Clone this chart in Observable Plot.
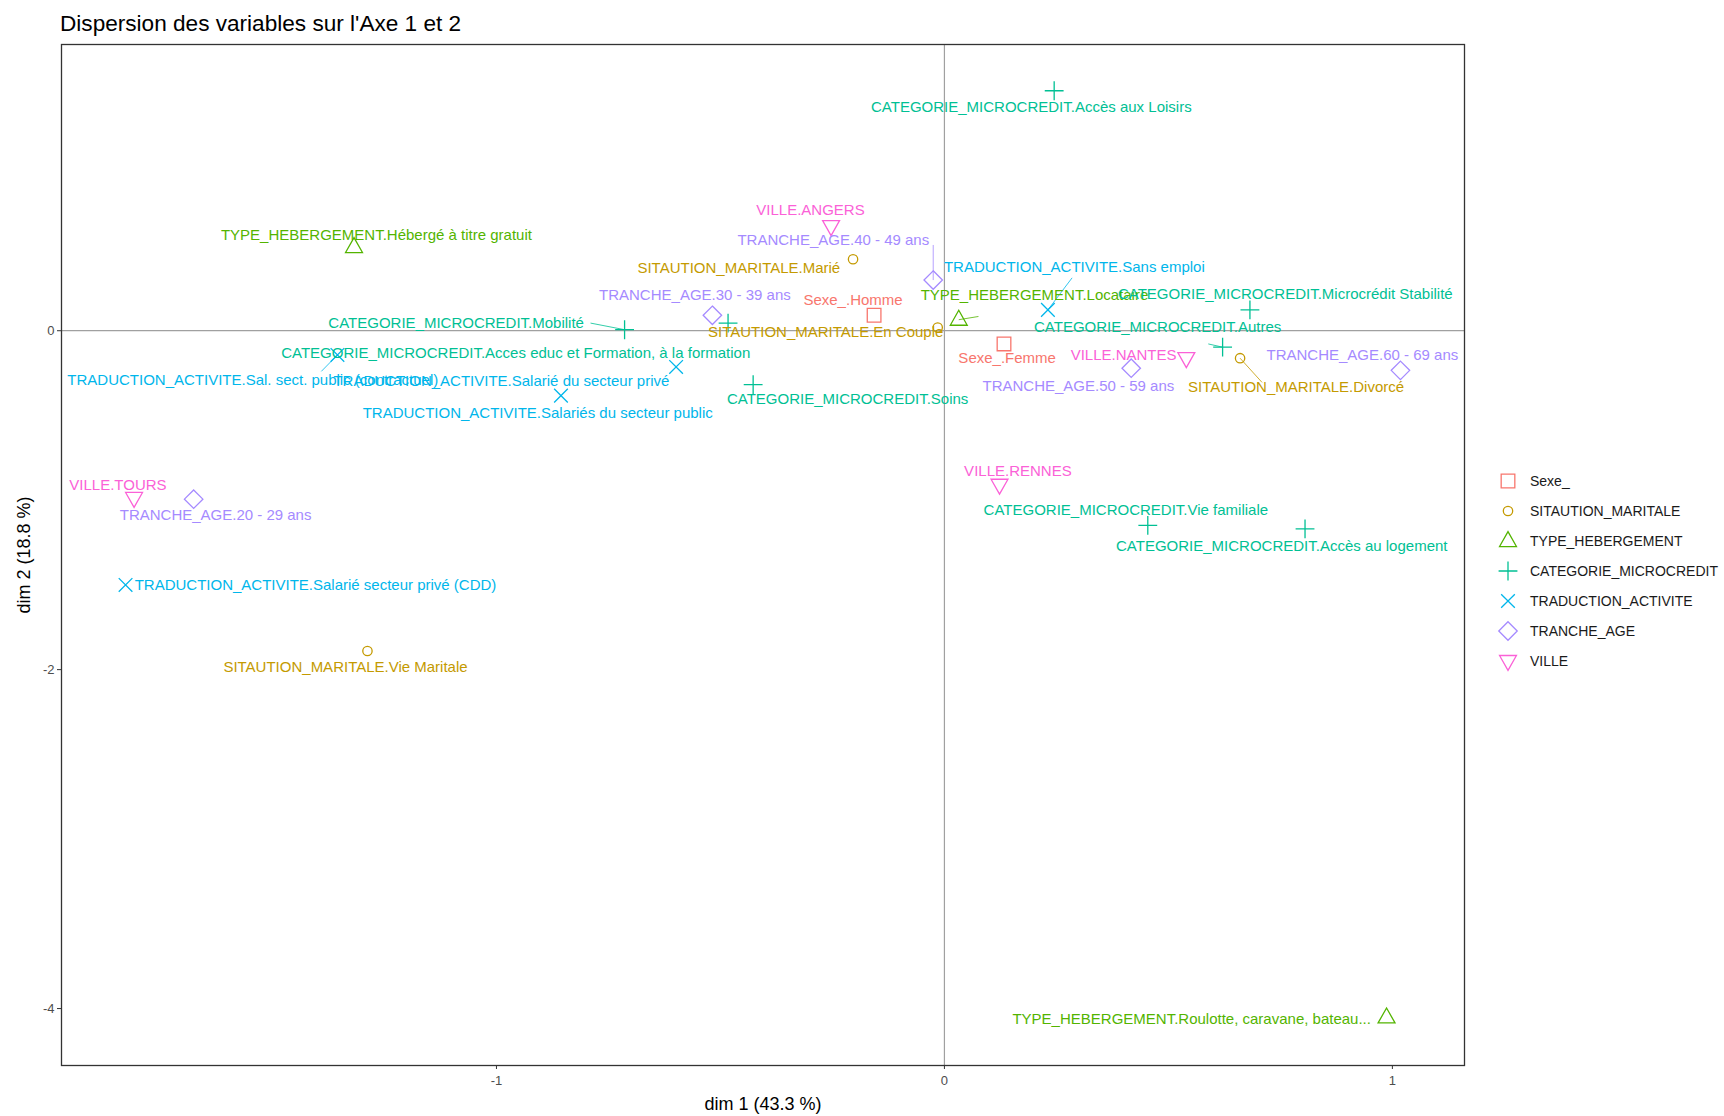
<!DOCTYPE html>
<html><head><meta charset="utf-8">
<script src="https://cdn.jsdelivr.net/npm/d3@7"></script>
<script src="https://cdn.jsdelivr.net/npm/@observablehq/plot@0.6"></script>
<style>
body{margin:0;background:#fff;font-family:"Liberation Sans",Arial,sans-serif;}
#wrap{position:relative;width:1724px;height:1116px;overflow:hidden;}
#title{position:absolute;left:60px;top:12px;font-size:22.6px;line-height:23px;color:#000;white-space:nowrap;}
#chart{position:absolute;left:0;top:36px;}
#legend{position:absolute;left:1493px;top:466px;font-size:14px;color:#1a1a1a;}
#legend .it{display:flex;align-items:center;height:30px;}
#legend svg{width:30px;height:30px;margin-right:7px;}
</style></head><body>
<div id="wrap">
  <div id="title">Dispersion des variables sur l'Axe 1 et 2</div>
  <div id="chart"></div>
  <div id="legend"></div>
</div>
<script>
// ---- data ----
const groups = ["Sexe_", "SITAUTION_MARITALE", "TYPE_HEBERGEMENT", "CATEGORIE_MICROCREDIT", "TRADUCTION_ACTIVITE", "TRANCHE_AGE", "VILLE"];
const groupColors = ["#F8766D", "#C49A00", "#53B400", "#00C094", "#00B6EB", "#A58AFF", "#FB61D7"];

const names = [
  "Sexe_.Homme", "Sexe_.Femme",
  "SITAUTION_MARITALE.Marié", "SITAUTION_MARITALE.En Couple", "SITAUTION_MARITALE.Divorcé", "SITAUTION_MARITALE.Vie Maritale",
  "TYPE_HEBERGEMENT.Hébergé à titre gratuit", "TYPE_HEBERGEMENT.Locataire", "TYPE_HEBERGEMENT.Roulotte, caravane, bateau...",
  "CATEGORIE_MICROCREDIT.Accès aux Loisirs", "CATEGORIE_MICROCREDIT.Mobilité", "CATEGORIE_MICROCREDIT.Acces educ et Formation, à la formation",
  "CATEGORIE_MICROCREDIT.Soins", "CATEGORIE_MICROCREDIT.Microcrédit Stabilité", "CATEGORIE_MICROCREDIT.Autres",
  "CATEGORIE_MICROCREDIT.Vie familiale", "CATEGORIE_MICROCREDIT.Accès au logement",
  "TRADUCTION_ACTIVITE.Sal. sect. public (contractuel)", "TRADUCTION_ACTIVITE.Salarié du secteur privé",
  "TRADUCTION_ACTIVITE.Salariés du secteur public", "TRADUCTION_ACTIVITE.Sans emploi", "TRADUCTION_ACTIVITE.Salarié secteur privé (CDD)",
  "TRANCHE_AGE.40 - 49 ans", "TRANCHE_AGE.30 - 39 ans", "TRANCHE_AGE.50 - 59 ans", "TRANCHE_AGE.60 - 69 ans", "TRANCHE_AGE.20 - 29 ans",
  "VILLE.ANGERS", "VILLE.NANTES", "VILLE.RENNES", "VILLE.TOURS"
];
const groupOf = [
  0, 0,
  1, 1, 1, 1,
  2, 2, 2,
  3, 3, 3, 3, 3, 3, 3, 3,
  4, 4, 4, 4, 4,
  5, 5, 5, 5, 5,
  6, 6, 6, 6
];
const dim1 = [
  -0.157, 0.133,
  -0.204, -0.015, 0.660, -1.288,
  -1.318, 0.032, 0.987,
  0.245, -0.714, -0.483, -0.427, 0.682, 0.621, 0.454, 0.805,
  -1.355, -0.599, -0.856, 0.231, -1.828,
  -0.025, -0.518, 0.417, 1.018, -1.676,
  -0.253, 0.540, 0.123, -1.809
];
const dim2 = [
  0.091, -0.078,
  0.422, 0.019, -0.162, -1.890,
  0.494, 0.065, -4.052,
  1.416, 0.006, 0.045, -0.318, 0.123, -0.097, -1.149, -1.169,
  -0.143, -0.214, -0.383, 0.123, -1.500,
  0.299, 0.091, -0.221, -0.234, -0.994,
  0.617, -0.162, -0.909, -0.987
];
// repelled label anchors (data units)
const labelDim1 = [
  -0.204, 0.140,
  -0.459, -0.265, 0.785, -1.337,
  -1.268, 0.201, 0.552,
  0.194, -1.090, -0.957, -0.216, 0.761, 0.476, 0.405, 0.753,
  -1.544, -0.989, -0.908, 0.290, -1.404,
  -0.248, -0.557, 0.299, 0.933, -1.627,
  -0.299, 0.400, 0.164, -1.845
];
const labelDim2 = [
  0.182, -0.162,
  0.370, -0.006, -0.331, -1.987,
  0.565, 0.208, -4.065,
  1.318, 0.045, -0.130, -0.403, 0.214, 0.019, -1.058, -1.273,
  -0.292, -0.299, -0.487, 0.377, -1.500,
  0.532, 0.208, -0.325, -0.143, -1.091,
  0.714, -0.143, -0.831, -0.909
];
// leader segments: modality index and label-side end (data units)
const leaderIndex = [10, 22, 20, 7, 14, 4, 17];
const leaderDim1 = [-0.790, -0.025, 0.285, 0.076, 0.589, 0.709, -1.391];
const leaderDim2 = [0.045, 0.506, 0.312, 0.084, -0.078, -0.305, -0.240];

const xTicks = [-1, 0, 1];
const yTicks = [-4, -2, 0];
const xTitle = "dim 1 (43.3 %)";
const yTitle = "dim 2 (18.8 %)";

// ---- build tables ----
const rows = names.map((n, i) => ({name: n, group: groups[groupOf[i]], d1: dim1[i], d2: dim2[i], l1: labelDim1[i], l2: labelDim2[i]}));
const leaders = leaderIndex.map((k, j) => ({group: rows[k].group, x1: rows[k].d1, y1: rows[k].d2, x2: leaderDim1[j], y2: leaderDim2[j]}));

// custom open symbols (ggplot shapes 0..6)
const sym = f => ({draw(c, size) { const r = Math.sqrt(size / Math.PI); f(c, r); }});
const shapes = [
  sym((c, r) => { const h = r * 1.05; c.moveTo(-h, -h); c.lineTo(h, -h); c.lineTo(h, h); c.lineTo(-h, h); c.closePath(); }),
  sym((c, r) => { const a = r * 0.72; c.moveTo(a, 0); c.arc(0, 0, a, 0, 2 * Math.PI); }),
  sym((c, r) => { const w = r * 1.3, t = r * 1.45, b = r * 0.85; c.moveTo(0, -t); c.lineTo(w, b); c.lineTo(-w, b); c.closePath(); }),
  sym((c, r) => { const h = r * 1.45; c.moveTo(-h, 0); c.lineTo(h, 0); c.moveTo(0, -h); c.lineTo(0, h); }),
  sym((c, r) => { const h = r * 1.05; c.moveTo(-h, -h); c.lineTo(h, h); c.moveTo(h, -h); c.lineTo(-h, h); }),
  sym((c, r) => { const h = r * 1.42; c.moveTo(0, -h); c.lineTo(h, 0); c.lineTo(0, h); c.lineTo(-h, 0); c.closePath(); }),
  sym((c, r) => { const w = r * 1.3, t = r * 1.45, b = r * 0.85; c.moveTo(0, t); c.lineTo(w, -b); c.lineTo(-w, -b); c.closePath(); })
];

const font = "'Liberation Sans', Arial, sans-serif";
const fmt = d => String(d);
const chart = Plot.plot({
  width: 1724, height: 1080,
  marginLeft: 61, marginRight: 260, marginTop: 8, marginBottom: 51,
  style: {fontFamily: font, background: "white", overflow: "visible"},
  x: {domain: [-1.971, 1.161], ticks: xTicks, label: null},
  y: {domain: [-4.336, 1.689], ticks: yTicks, label: null},
  color: {domain: groups, range: groupColors},
  symbol: {domain: groups, range: shapes},
  marks: [
    Plot.ruleX([0], {stroke: "#a0a0a0", strokeWidth: 1.2}),
    Plot.ruleY([0], {stroke: "#a0a0a0", strokeWidth: 1.2}),
    Plot.frame({stroke: "#333", strokeWidth: 1.3}),
    Plot.axisX(xTicks, {tickSize: 4, tickPadding: 6, fontSize: 13, fill: "#4d4d4d", stroke: "#333", tickFormat: fmt, label: null}),
    Plot.axisY(yTicks, {tickSize: 4, tickPadding: 3, fontSize: 13, fill: "#4d4d4d", stroke: "#333", tickFormat: fmt, label: null}),
    Plot.text([xTitle], {frameAnchor: "bottom", dy: 39, textAnchor: "middle", lineAnchor: "middle", fontSize: 18, fill: "#000"}),
    Plot.text([yTitle], {frameAnchor: "left", dx: -37, rotate: -90, textAnchor: "middle", lineAnchor: "middle", fontSize: 18, fill: "#000"}),
    Plot.link(leaders, {x1: "x1", y1: "y1", x2: "x2", y2: "y2", stroke: "group", strokeWidth: 0.8}),
    Plot.dot(rows, {x: "d1", y: "d2", symbol: "group", stroke: "group", r: 6.5, strokeWidth: 1.3, fill: "none"}),
    Plot.text(rows, {x: "l1", y: "l2", text: "name", fill: "group", fontSize: 15, textAnchor: "middle", lineAnchor: "middle"})
  ]
});
document.getElementById("chart").appendChild(chart);

// legend (using the same symbol and colour definitions)
const leg = d3.select("#legend");
groups.forEach((g, i) => {
  const it = leg.append("div").attr("class", "it");
  const s = it.append("svg").attr("viewBox", "-15 -15 30 30");
  s.append("path").attr("d", d3.symbol(shapes[i], Math.PI * 6.5 * 6.5)()).attr("fill", "none").attr("stroke", groupColors[i]).attr("stroke-width", 1.3);
  it.append("span").text(g);
});
</script>
</body></html>
